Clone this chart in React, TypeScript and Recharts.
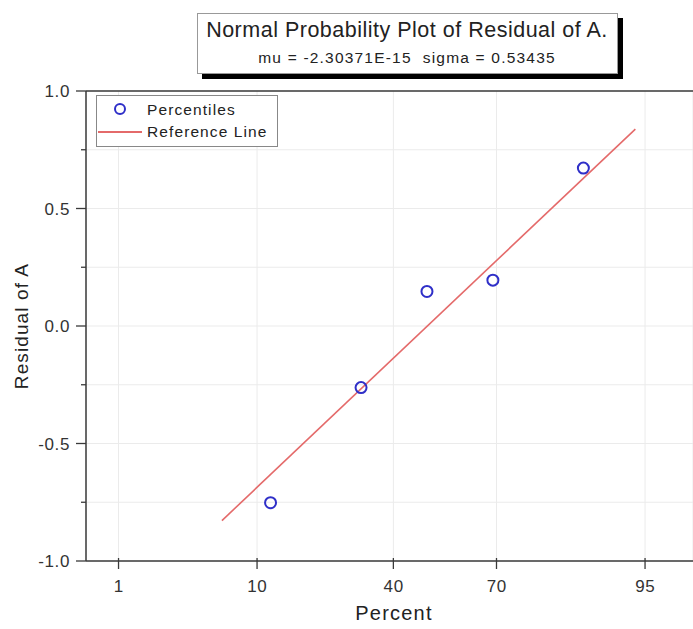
import React from "react";
import {
  ComposedChart,
  Scatter,
  Line,
  XAxis,
  YAxis,
  CartesianGrid,
  ReferenceLine,
  Label,
} from "recharts";

// plotting positions (%) and sorted residuals
const percents = [11.905, 30.952, 50, 69.048, 88.095];
const residuals = [-0.752, -0.262, 0.147, 0.195, 0.672];

// fitted normal line end points
const refPercents = [6.1, 94.2];
const refResiduals = [-0.828, 0.838];

const xTickPercents = [1, 10, 40, 70, 95];
const xRangePercents = [0.506, 97.76];
const yTicks = [-1, -0.75, -0.5, -0.25, 0, 0.25, 0.5, 0.75, 1];

const FONT = '"Liberation Sans", Arial, sans-serif';
const BLUE = "#2f2fc8";
const RED = "#e46a6a";
const AXIS = "#3a3a3a";

// inverse standard normal cdf (Acklam)
function probit(pct: number): number {
  const p = pct / 100;
  const a = [-39.69683028665376, 220.9460984245205, -275.9285104469687, 138.357751867269, -30.66479806614716, 2.506628277459239];
  const b = [-54.47609879822406, 161.5858368580409, -155.6989798598866, 66.80131188771972, -13.28068155211572];
  const c = [-0.007784894002430293, -0.3223964580411365, -2.400758277161838, -2.549732539343734, 4.374664141464968, 2.938163982698783];
  const d = [0.007784695709041462, 0.3224671290700398, 2.445134137142996, 3.754408661907416];
  const plow = 0.02425;
  if (p < plow) {
    const q = Math.sqrt(-2 * Math.log(p));
    return (((((c[0] * q + c[1]) * q + c[2]) * q + c[3]) * q + c[4]) * q + c[5]) /
      ((((d[0] * q + d[1]) * q + d[2]) * q + d[3]) * q + 1);
  }
  if (p > 1 - plow) {
    const q = Math.sqrt(-2 * Math.log(1 - p));
    return -(((((c[0] * q + c[1]) * q + c[2]) * q + c[3]) * q + c[4]) * q + c[5]) /
      ((((d[0] * q + d[1]) * q + d[2]) * q + d[3]) * q + 1);
  }
  const q = p - 0.5;
  const r = q * q;
  return ((((((a[0] * r + a[1]) * r + a[2]) * r + a[3]) * r + a[4]) * r + a[5]) * q) /
    (((((b[0] * r + b[1]) * r + b[2]) * r + b[3]) * r + b[4]) * r + 1);
}

const points = percents.map((p, i) => ({ z: probit(p), v: residuals[i] }));
const refLine = refPercents.map((p, i) => ({ z: probit(p), v: refResiduals[i] }));
const xTicks = xTickPercents.map(probit);

const XTick = (props: any) => {
  const { x, y, index } = props;
  return (
    <g>
      <line x1={x} y1={y - 3} x2={x} y2={y + 8} stroke={AXIS} strokeWidth={1.3} />
      <text x={x + 0.3} y={y + 31} textAnchor="middle" fontFamily={FONT} fontSize={17} letterSpacing={0.6} fill="#333">
        {xTickPercents[index]}
      </text>
    </g>
  );
};

const YTick = (props: any) => {
  const { x, y, payload } = props;
  const v = payload.value as number;
  const major = Math.abs(v * 2 - Math.round(v * 2)) < 1e-6;
  return (
    <g>
      <line x1={x - (major ? 10 : 5)} y1={y} x2={x} y2={y} stroke={AXIS} strokeWidth={1.3} />
      {major && (
        <text x={x - 16} y={y + 6} textAnchor="end" fontFamily={FONT} fontSize={17} letterSpacing={0.6} fill="#333">
          {v.toFixed(1)}
        </text>
      )}
    </g>
  );
};

function LegendBox() {
  return (
    <svg width={182} height={52} style={{ position: "absolute", left: 96, top: 95 }}>
      <rect x={0.5} y={0.5} width={181} height={51} fill="#fff" stroke="#888" strokeWidth={1} />
      <circle cx={24} cy={14} r={5} fill="none" stroke={BLUE} strokeWidth={2} />
      <line x1={2} y1={37} x2={46} y2={37} stroke={RED} strokeWidth={1.8} />
      <text x={51} y={20} fontFamily={FONT} fontSize={15.5} letterSpacing={1.1} fill="#222">Percentiles</text>
      <text x={51} y={42} fontFamily={FONT} fontSize={15.5} letterSpacing={1.1} fill="#222">Reference Line</text>
    </svg>
  );
}

function TitleBox() {
  return (
    <svg width={430} height={72} style={{ position: "absolute", left: 196, top: 12 }}>
      <rect x={6} y={6} width={421} height={61} fill="#000" />
      <rect x={1.5} y={1.5} width={420} height={60} fill="#fff" stroke="#999" strokeWidth={1} />
      <text x={211} y={25} textAnchor="middle" fontFamily={FONT} fontSize={21.5} letterSpacing={0.5} fill="#222">
        Normal Probability Plot of Residual of A.
      </text>
      <text x={211} y={51} textAnchor="middle" fontFamily={FONT} fontSize={15.5} letterSpacing={1.2} fill="#222" xmlSpace="preserve">
        {"mu = -2.30371E-15  sigma = 0.53435"}
      </text>
    </svg>
  );
}

export default function App() {
  return (
    <div style={{ position: "absolute", left: 0, top: 0, width: 693, height: 629, background: "#fff" }}>
      <ComposedChart
        width={693}
        height={629}
        margin={{ top: 91, right: 0, bottom: 67, left: 85 }}
      >
        <CartesianGrid stroke="#ebebeb" strokeWidth={1} />
        <XAxis
          type="number"
          dataKey="z"
          domain={[probit(xRangePercents[0]), probit(xRangePercents[1])]}
          ticks={xTicks}
          allowDataOverflow
          height={1}
          tickLine={false}
          tickSize={0}
          tickMargin={0}
          tick={<XTick />}
          axisLine={{ stroke: AXIS, strokeWidth: 1.5 }}
          interval={0}
        >
          <Label
            content={(p: any) => (
              <text
                x={394}
                y={p.viewBox.y + 59}
                textAnchor="middle"
                fontFamily={FONT}
                fontSize={20}
                letterSpacing={1.2}
                fill="#222"
              >
                Percent
              </text>
            )}
          />
        </XAxis>
        <YAxis
          type="number"
          dataKey="v"
          domain={[-1, 1]}
          ticks={yTicks}
          width={1}
          tickLine={false}
          tickSize={0}
          tickMargin={0}
          tick={<YTick />}
          axisLine={{ stroke: AXIS, strokeWidth: 1.5 }}
          interval={0}
        >
          <Label
            content={(p: any) => {
              const cx = 28;
              const cy = p.viewBox.y + p.viewBox.height / 2;
              return (
                <text
                  x={cx}
                  y={cy}
                  transform={`rotate(-90 ${cx} ${cy})`}
                  textAnchor="middle"
                  fontFamily={FONT}
                  fontSize={19}
                  letterSpacing={1.1}
                  fill="#222"
                >
                  Residual of A
                </text>
              );
            }}
          />
        </YAxis>
        <ReferenceLine y={1} stroke={AXIS} strokeWidth={1.5} />
        <Line
          data={refLine}
          dataKey="v"
          stroke={RED}
          strokeWidth={1.6}
          dot={false}
          activeDot={false}
          isAnimationActive={false}
        />
        <Scatter
          data={points}
          dataKey="v"
          isAnimationActive={false}
          shape={(p: any) => (
            <circle cx={p.cx} cy={p.cy} r={5.5} fill="none" stroke={BLUE} strokeWidth={2} />
          )}
        />
      </ComposedChart>
      <LegendBox />
      <TitleBox />
    </div>
  );
}
